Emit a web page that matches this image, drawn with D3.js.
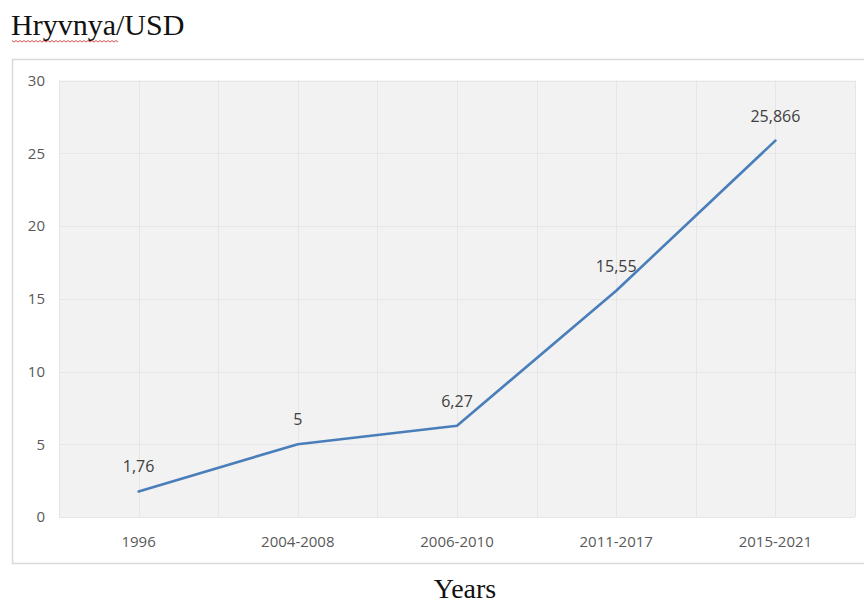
<!DOCTYPE html>
<html>
<head>
<meta charset="utf-8">
<script src="https://cdn.jsdelivr.net/npm/d3@7"></script>
<style>
  html, body { margin: 0; padding: 0; background: #fff; }
  svg { display: block; }
</style>
</head>
<body>
<svg id="chart" width="864" height="606"></svg>
<script>
// Exchange rate of the hryvnya against the US dollar by period
const periods = ["1996", "2004-2008", "2006-2010", "2011-2017", "2015-2021"];
const rates = [1.76, 5, 6.27, 15.55, 25.866];
const rateLabels = ["1,76", "5", "6,27", "15,55", "25,866"];
const yTicks = [0, 5, 10, 15, 20, 25, 30];

const svg = d3.select("#chart");
const plot = { left: 59, right: 855, top: 80.5, bottom: 517 };
const serif = "'Liberation Serif', 'Times New Roman', serif";
const tickFont = "'Open Sans', 'Liberation Sans', sans-serif";

// Chart frame
svg.append("rect")
  .attr("x", 12.5).attr("y", 59.5)
  .attr("width", 870).attr("height", 504)
  .attr("fill", "#fff")
  .attr("stroke", "#d9d9d9").attr("stroke-width", 1.5);

// Title with spell-check underline
svg.append("text")
  .attr("x", 11).attr("y", 35)
  .attr("font-family", serif)
  .attr("font-size", 30)
  .attr("fill", "#111")
  .text("Hryvnya/USD");

const wave = [];
for (let x = 12; x <= 119; x += 2) wave.push([x, 40.5 + ((x / 2) % 2 === 0 ? 0 : 1.6)]);
svg.append("path")
  .attr("d", d3.line()(wave))
  .attr("fill", "none").attr("stroke", "#d23a3a").attr("stroke-width", 0.9);

const x = d3.scaleBand().domain(periods).range([plot.left, plot.right]).padding(0);
const y = d3.scaleLinear().domain([0, 30]).range([plot.bottom, plot.top]);

// Plot background
svg.append("rect")
  .attr("x", plot.left).attr("y", plot.top)
  .attr("width", plot.right - plot.left).attr("height", plot.bottom - plot.top)
  .attr("fill", "#f2f2f2");

// Horizontal gridlines
svg.append("g").selectAll("line").data(yTicks).join("line")
  .attr("x1", plot.left).attr("x2", plot.right)
  .attr("y1", d => Math.round(y(d)) + 0.5).attr("y2", d => Math.round(y(d)) + 0.5)
  .attr("stroke", "#e6e6e6").attr("stroke-width", 1);

// Vertical gridlines at category boundaries and centres
const vLines = [];
periods.forEach(p => {
  vLines.push(x(p));
  vLines.push(x(p) + x.bandwidth() / 2);
});
vLines.push(plot.right);
svg.append("g").selectAll("line").data(vLines).join("line")
  .attr("x1", d => Math.round(d) + 0.5).attr("x2", d => Math.round(d) + 0.5)
  .attr("y1", plot.top).attr("y2", plot.bottom)
  .attr("stroke", "#e6e6e6").attr("stroke-width", 1);

// Y axis
const yAxis = svg.append("g")
  .attr("transform", `translate(${plot.left - 14},0)`)
  .call(d3.axisLeft(y).tickValues(yTicks).tickSize(0).tickPadding(0).tickFormat(d3.format("d")));
yAxis.select(".domain").remove();
yAxis.selectAll("text")
  .attr("font-family", tickFont).attr("font-size", 15).attr("fill", "#595959");

// X axis
const xAxis = svg.append("g")
  .attr("transform", `translate(0,${plot.bottom})`)
  .call(d3.axisBottom(x).tickSize(0).tickPadding(19));
xAxis.select(".domain").remove();
xAxis.selectAll("text")
  .attr("font-family", tickFont).attr("font-size", 15).attr("fill", "#595959");

// Rate line
const cx = p => x(p) + x.bandwidth() / 2;
svg.append("path")
  .datum(periods.map((p, i) => [cx(p), y(rates[i])]))
  .attr("d", d3.line())
  .attr("fill", "none")
  .attr("stroke", "#4a7ebb").attr("stroke-width", 2.6)
  .attr("stroke-linejoin", "round").attr("stroke-linecap", "round");

// Value labels
svg.append("g").selectAll("text").data(periods).join("text")
  .attr("x", p => cx(p))
  .attr("y", (p, i) => y(rates[i]) - 19)
  .attr("text-anchor", "middle")
  .attr("font-family", tickFont).attr("font-size", 16)
  .attr("fill", "#404040")
  .text((p, i) => rateLabels[i]);

// X axis title
svg.append("text")
  .attr("x", 465).attr("y", 598)
  .attr("text-anchor", "middle")
  .attr("font-family", serif)
  .attr("font-size", 28)
  .attr("fill", "#111")
  .text("Years");
</script>
</body>
</html>
